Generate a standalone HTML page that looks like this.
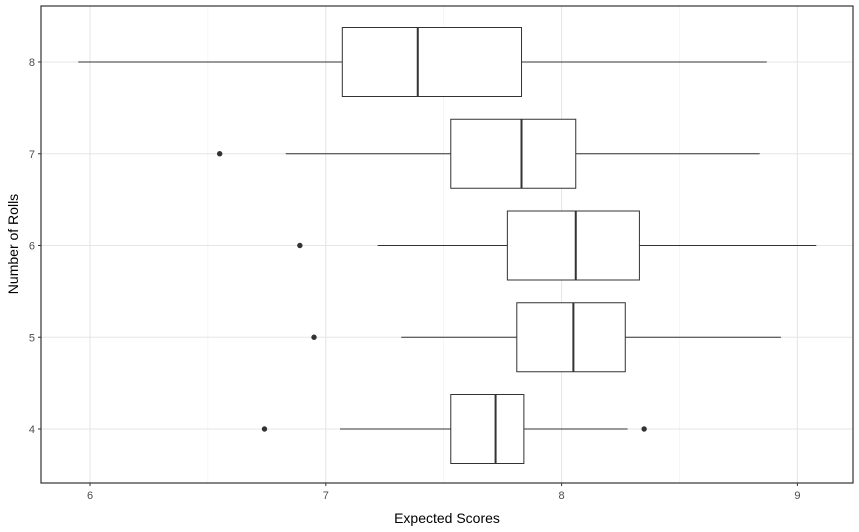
<!DOCTYPE html>
<html><head><meta charset="utf-8">
<style>
html,body{margin:0;padding:0;background:#fff;}
svg{display:block;font-family:"Liberation Sans",sans-serif;}
</style></head>
<body>
<svg id="chart" width="859" height="532" xmlns="http://www.w3.org/2000/svg"></svg>
<script>
const categories = [8, 7, 6, 5, 4];
const whiskerLow = [5.95, 6.83, 7.22, 7.32, 7.06];
const q1 = [7.07, 7.53, 7.77, 7.81, 7.53];
const median = [7.39, 7.83, 8.06, 8.05, 7.72];
const q3 = [7.83, 8.06, 8.33, 8.27, 7.84];
const whiskerHigh = [8.87, 8.84, 9.08, 8.93, 8.28];
const outliers = [[], [6.55], [6.89], [6.95], [6.74, 8.35]];
const xTicks = [6, 7, 8, 9];
const xMinor = [6.5, 7.5, 8.5];
const yTicks = [4, 5, 6, 7, 8];

const L = 41, R = 853, T = 6, B = 483;
const x = v => 90 + (v - 6) * 235.8;
const y = v => 429 - (v - 4) * 91.75;
const svg = document.getElementById('chart');
const NS = 'http://www.w3.org/2000/svg';
function mk(tag, attrs, parent) {
  const e = document.createElementNS(NS, tag);
  for (const k in attrs) e.setAttribute(k, attrs[k]);
  (parent || svg).appendChild(e);
  return e;
}
const grid = mk('g', {});


xMinor.forEach(v => mk('line', {x1: x(v), x2: x(v), y1: T, y2: B, stroke: '#f0f0f0', 'stroke-width': 0.6}, grid));
xTicks.forEach(v => mk('line', {x1: x(v), x2: x(v), y1: T, y2: B, stroke: '#e6e6e6', 'stroke-width': 1.1}, grid));
yTicks.forEach(v => mk('line', {x1: L, x2: R, y1: y(v), y2: y(v), stroke: '#e6e6e6', 'stroke-width': 1.1}, grid));

categories.forEach((c, i) => {
  const g = mk('g', {});
  
  
  const cy = y(c), h = 34.5;
  mk('line', {x1: x(whiskerLow[i]), x2: x(q1[i]), y1: cy, y2: cy, stroke: '#333', 'stroke-width': 1}, g);
  mk('line', {x1: x(q3[i]), x2: x(whiskerHigh[i]), y1: cy, y2: cy, stroke: '#333', 'stroke-width': 1}, g);
  mk('rect', {x: x(q1[i]), y: cy - h, width: x(q3[i]) - x(q1[i]), height: 2 * h, fill: '#fff', stroke: '#333', 'stroke-width': 1}, g);
  mk('line', {x1: x(median[i]), x2: x(median[i]), y1: cy - h, y2: cy + h, stroke: '#333', 'stroke-width': 2}, g);
  outliers[i].forEach(o => {
    const p = mk('circle', {cx: x(o), cy: cy, r: 2.7, fill: '#333'}, g);
    
    
  });
});

const panel = mk('rect', {x: L, y: T, width: R - L, height: B - T, fill: 'none', stroke: '#333', 'stroke-width': 1.2});



xTicks.forEach(v => {
  mk('line', {x1: x(v), x2: x(v), y1: B, y2: B + 3, stroke: '#333'});
  const t = mk('text', {x: x(v), y: B + 16, 'text-anchor': 'middle', 'font-size': 11, fill: '#4d4d4d'});
  t.textContent = v;
  
  
});
yTicks.forEach(v => {
  mk('line', {x1: L - 3, x2: L, y1: y(v), y2: y(v), stroke: '#333'});
  const t = mk('text', {x: L - 6, y: y(v) + 4, 'text-anchor': 'end', 'font-size': 11, fill: '#4d4d4d'});
  t.textContent = v;
  
  
});
const xt = mk('text', {x: 447, y: 523, 'text-anchor': 'middle', 'font-size': 14, fill: '#000'});
xt.textContent = 'Expected Scores';


const yt = mk('text', {x: 0, y: 0, transform: 'translate(18,244) rotate(-90)', 'text-anchor': 'middle', 'font-size': 14, fill: '#000'});
yt.textContent = 'Number of Rolls';


</script>
</body></html>
